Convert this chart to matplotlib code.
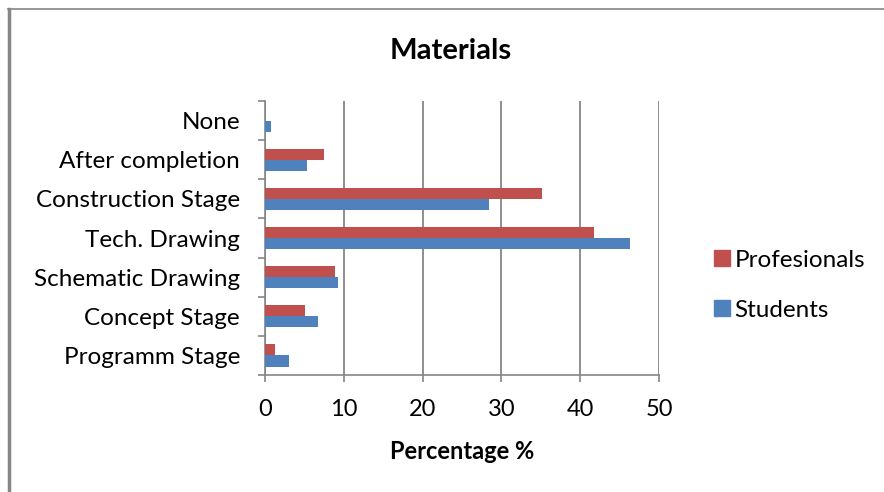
import numpy as np
import matplotlib.pyplot as plt
from matplotlib.lines import Line2D

plt.rcParams['font.family'] = ['Lato', 'DejaVu Sans']

# categories from bottom to top
stages = ['Programm Stage', 'Concept Stage', 'Schematic Drawing', 'Tech. Drawing',
          'Construction Stage', 'After completion', 'None']
profesionals = [1.3, 5.1, 8.9, 41.7, 35.1, 7.5, 0.0]
students = [3.1, 6.7, 9.2, 46.3, 28.4, 5.3, 0.8]
xticks = [0, 10, 20, 30, 40, 50]

red = '#C0504D'
blue = '#4F81BD'
grey = '#868686'

fig = plt.figure(figsize=(8.84, 4.92), dpi=100)
ax = fig.add_axes([0.2998, 0.2378, 0.4457, 0.5569])

y = np.arange(len(stages))
h = 0.286
ax.barh(y + h / 2, profesionals, height=h, color=red, label='Profesionals', zorder=3)
ax.barh(y - h / 2, students, height=h, color=blue, label='Students', zorder=3)

ax.set_xlim(0, 50)
ax.set_ylim(-0.5, len(stages) - 0.5)
ax.set_xticks(xticks)
ax.set_xticklabels([str(t) for t in xticks], fontsize=17)
ax.set_yticks(y)
ax.set_yticklabels(stages, fontsize=17.5)
ax.tick_params(axis='y', length=0, pad=18)
ax.tick_params(axis='x', length=5, color=grey, width=1.2, pad=12)

# category boundary ticks on the left axis
ax.set_yticks(np.arange(len(stages) + 1) - 0.5, minor=True)
ax.tick_params(axis='y', which='minor', length=5, color=grey, width=1.2)

ax.grid(axis='x', color=grey, linewidth=1.3, zorder=0)
for s in ['top', 'right']:
    ax.spines[s].set_visible(False)
for s in ['left', 'bottom']:
    ax.spines[s].set_color(grey)
    ax.spines[s].set_linewidth(1.2)

ax.set_xlabel('Percentage %', fontsize=17, fontweight='bold', labelpad=15)
fig.text(0.51, 0.896, 'Materials', ha='center', va='center', fontsize=21, fontweight='bold')

handles = [Line2D([], [], marker='s', linestyle='', markersize=12, color=red),
           Line2D([], [], marker='s', linestyle='', markersize=12, color=blue)]
fig.legend(handles, ['Profesionals', 'Students'], loc='center left',
           bbox_to_anchor=(0.809, 0.42), frameon=False, fontsize=17.5,
           handlelength=0.6, handletextpad=0.2, labelspacing=1.2,
           borderpad=0, borderaxespad=0)

# outer frame lines
fig.add_artist(Line2D([0.0105, 0.0105], [0, 0.982], color=grey, linewidth=2.5))
fig.add_artist(Line2D([0.009, 1.0], [0.981, 0.981], color=grey, linewidth=1.2))

fig.savefig('out.png', dpi=100)
